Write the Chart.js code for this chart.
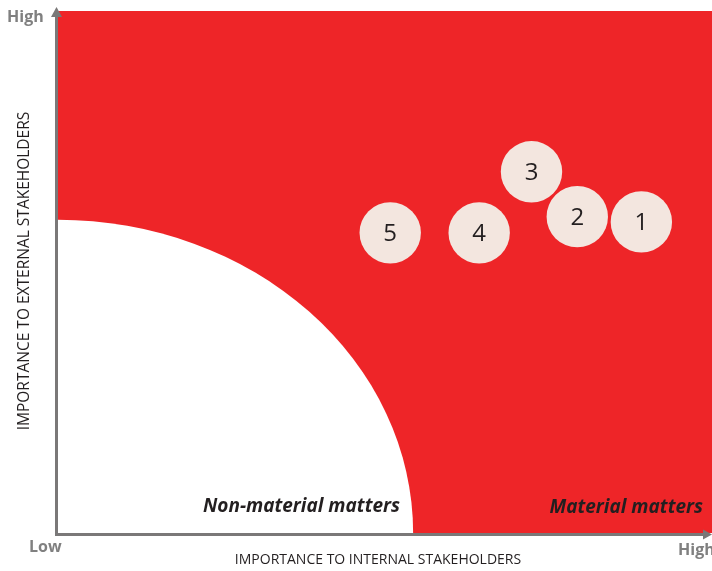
<!DOCTYPE html>
<html>
<head>
<meta charset="utf-8">
<script src="https://cdn.jsdelivr.net/npm/chart.js@4/dist/chart.umd.min.js"></script>
<style>
  html, body { margin: 0; padding: 0; background: #fff; }
  #wrap { width: 712px; height: 571px; }
</style>
</head>
<body>
<div id="wrap"><canvas id="matrix" width="712" height="571"></canvas></div>
<script>
// materiality matters (label, internal importance, external importance)
var matters = ['1', '2', '3', '4', '5'];
var internalScore = [89.2, 79.4, 72.4, 64.4, 50.8];
var externalScore = [59.6, 60.6, 69.2, 57.5, 57.5];

// boundary of the non-material zone (quarter ellipse from the origin)
var boundaryX = 54.3;
var boundaryY = 60;

var RED = '#ee2528';
var AXIS = '#7a7878';

var zonePlugin = {
    id: 'zones',
    beforeDatasetsDraw: function (chart) {
        var c = chart.ctx, a = chart.chartArea;
        var sx = chart.scales.x, sy = chart.scales.y;
        c.save();
        c.fillStyle = RED;
        c.fillRect(a.left, a.top, a.right - a.left, a.bottom - a.top);
        // white quarter ellipse
        var ox = sx.getPixelForValue(0), oy = sy.getPixelForValue(0);
        var rx = sx.getPixelForValue(boundaryX) - ox;
        var ry = oy - sy.getPixelForValue(boundaryY);
        c.fillStyle = '#ffffff';
        c.beginPath();
        c.moveTo(ox, oy);
        c.ellipse(ox, oy, rx, ry, 0, -Math.PI / 2, 0);
        c.closePath();
        c.fill();

        // zone labels
        c.fillStyle = '#231f20';
        c.font = 'italic bold 19px "Open Sans"';
        c.textBaseline = 'alphabetic';
        c.textAlign = 'right';
        c.fillText('Non-material matters', 400, 512);
        c.fillText('Material matters', 703, 513);
        c.restore();
    },
    afterDatasetsDraw: function (chart) {
        var c = chart.ctx;
        var meta = chart.getDatasetMeta(0);
        c.save();
        c.fillStyle = '#231f20';
        c.font = '24px "Open Sans"';
        c.textAlign = 'center';
        c.textBaseline = 'middle';
        meta.data.forEach(function (pt, i) {
            c.fillText(matters[i], pt.x, pt.y + 1);
        });
        c.restore();
    },
    afterDraw: function (chart) {
        var c = chart.ctx;
        c.save();
        // axes with arrows
        c.strokeStyle = AXIS;
        c.fillStyle = AXIS;
        c.lineWidth = 3;
        c.beginPath();
        c.moveTo(56.5, 536);
        c.lineTo(56.5, 14);
        c.moveTo(55, 534.5);
        c.lineTo(706, 534.5);
        c.stroke();
        c.beginPath();
        c.moveTo(56.5, 7);
        c.lineTo(62, 17);
        c.lineTo(51, 17);
        c.closePath();
        c.fill();
        c.beginPath();
        c.moveTo(712, 534.5);
        c.lineTo(703, 529.5);
        c.lineTo(703, 539.5);
        c.closePath();
        c.fill();

        // low / high ends
        c.fillStyle = '#808080';
        c.font = 'bold 16px "Open Sans"';
        c.textBaseline = 'middle';
        c.textAlign = 'left';
        c.fillText('High', 7, 17);
        c.fillText('Low', 29, 547);
        c.fillText('High', 678, 550);

        // axis titles
        c.fillStyle = '#231f20';
        c.font = '14px "Open Sans"';
        c.textAlign = 'center';
        c.fillText('IMPORTANCE TO INTERNAL STAKEHOLDERS', 378, 560);
        c.translate(25, 271);
        c.rotate(-Math.PI / 2);
        c.font = '15.5px "Open Sans"';
        c.fillText('IMPORTANCE TO EXTERNAL STAKEHOLDERS', 0, 0);
        c.restore();
    }
};

var points = internalScore.map(function (v, i) {
    return { x: v, y: externalScore[i], r: 30.7 };
});

new Chart(document.getElementById('matrix').getContext('2d'), {
    type: 'bubble',
    data: {
        datasets: [{
            label: 'Matters',
            data: points,
            backgroundColor: '#f3e6df',
            borderWidth: 0,
            clip: false
        }]
    },
    options: {
        responsive: false,
        animation: false,
        layout: { autoPadding: false, padding: { left: 58, right: 0, top: 11, bottom: 38 } },
        scales: {
            x: { display: false, min: 0, max: 100 },
            y: { display: false, min: 0, max: 100 }
        },
        plugins: {
            legend: { display: false },
            tooltip: { enabled: false }
        }
    },
    plugins: [zonePlugin]
});
</script>
</body>
</html>
